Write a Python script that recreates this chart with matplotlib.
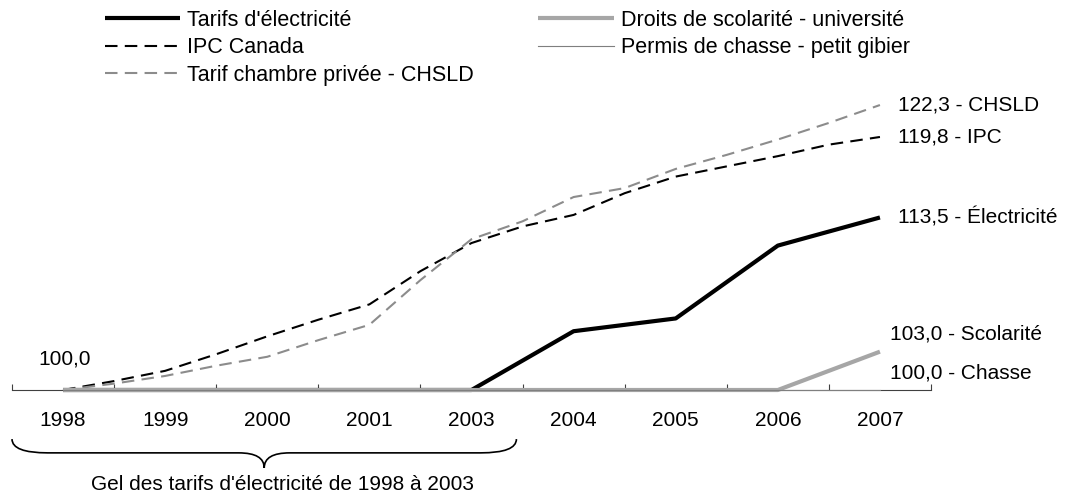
import numpy as np
import matplotlib.pyplot as plt
from matplotlib.path import Path
from matplotlib.patches import PathPatch
from matplotlib.transforms import blended_transform_factory

plt.rcParams['font.family'] = ['Liberation Sans', 'DejaVu Sans']

# category labels (2002 is not shown in the source)
years = ['1998', '1999', '2000', '2001', '2003', '2004', '2005', '2006', '2007']

# half-year series (17 points, 1998 to 2007)
ipc = [100.0, 100.7, 101.5, 102.8, 104.2, 105.5, 106.7, 109.3, 111.5,
       112.8, 113.7, 115.4, 116.7, 117.5, 118.3, 119.2, 119.8]
chsld = [100.0, 100.5, 101.1, 101.9, 102.6, 103.9, 105.1, 108.6, 111.8,
         113.2, 115.1, 115.8, 117.3, 118.4, 119.6, 120.9, 122.3]

# yearly series
electricite = [100.0, 100.0, 100.0, 100.0, 100.0, 104.6, 105.6, 111.3, 113.5]
scolarite = [100.0, 100.0, 100.0, 100.0, 100.0, 100.0, 100.0, 100.0, 103.0]
chasse = [100.0, 100.0, 100.0, 100.0, 100.0, 100.0, 100.0, 100.0, 100.0]

x_year = np.arange(len(years))
x_half = np.arange(len(ipc)) / 2

fs = 15
dash = (0, (6, 3.5))

fig = plt.figure(figsize=(10.71, 5.01), dpi=100)
ax = fig.add_axes([12/1071, 111/501, 919/1071, 306.7/501])

l_elec, = ax.plot(x_year, electricite, color='black', lw=3, zorder=3,
                  solid_capstyle='butt', clip_on=False, label="Tarifs d'électricité")
l_ipc, = ax.plot(x_half, ipc, color='black', lw=1.5, ls=dash, zorder=4,
                 clip_on=False, label='IPC Canada')
l_ch, = ax.plot(x_half, chsld, color='#8c8c8c', lw=1.5, ls=dash, zorder=4,
                clip_on=False, label='Tarif chambre privée - CHSLD')
l_sco, = ax.plot(x_year, scolarite, color='#a6a6a6', lw=3, zorder=5,
                 solid_capstyle='butt', clip_on=False,
                 label='Droits de scolarité - université')
l_cha, = ax.plot(x_year, chasse, color='#7f7f7f', lw=0.8, zorder=6,
                 clip_on=False, label='Permis de chasse - petit gibier')

ax.set_xlim(-0.5, len(years) - 0.5)
ax.set_ylim(100, 124)
for s in ['left', 'top', 'right']:
    ax.spines[s].set_visible(False)
ax.spines['bottom'].set_color('#404040')
ax.spines['bottom'].set_linewidth(0.8)
ax.set_yticks([])
ax.set_xticks(np.arange(len(years) + 1) - 0.5)
ax.set_xticklabels([])
ax.tick_params(axis='x', which='major', direction='in', length=4,
               color='#404040', width=0.8)
ax.set_xticks(x_year, minor=True)
ax.set_xticklabels(years, minor=True)
ax.tick_params(axis='x', which='minor', length=0, pad=15, labelsize=fs)

# end labels
ax.annotate('100,0', (x_half[0], ipc[0]), xytext=(2, 31), textcoords='offset pixels',
            ha='center', va='center', fontsize=fs)
ax.annotate('122,3 - CHSLD', (x_half[-1], chsld[-1]), xytext=(18, 0),
            textcoords='offset pixels', ha='left', va='center', fontsize=fs)
ax.annotate('119,8 - IPC', (x_half[-1], ipc[-1]), xytext=(18, 0),
            textcoords='offset pixels', ha='left', va='center', fontsize=fs)
ax.annotate('113,5 - Électricité', (x_year[-1], electricite[-1]), xytext=(18, 0),
            textcoords='offset pixels', ha='left', va='center', fontsize=fs)
ax.annotate('103,0 - Scolarité', (x_year[-1], scolarite[-1]), xytext=(10, 18),
            textcoords='offset pixels', ha='left', va='center', fontsize=fs)
ax.annotate('100,0 - Chasse', (x_year[-1], chasse[-1]), xytext=(10, 17),
            textcoords='offset pixels', ha='left', va='center', fontsize=fs)

# brace under the freeze years
tr = blended_transform_factory(ax.transData, ax.transAxes)
x0, x1 = -0.5, 4.44
xc = (x0 + x1) / 2
yt, ym, yb = -0.16, -0.205, -0.254
r, rt = 0.35, 0.25
verts = [(x0, yt), (x0, ym), (x0 + r, ym),
         (xc - rt, ym),
         (xc, ym), (xc, yb),
         (xc, ym), (xc + rt, ym),
         (x1 - r, ym),
         (x1, ym), (x1, yt)]
codes = [Path.MOVETO, Path.CURVE3, Path.CURVE3,
         Path.LINETO,
         Path.CURVE3, Path.CURVE3,
         Path.CURVE3, Path.CURVE3,
         Path.LINETO,
         Path.CURVE3, Path.CURVE3]
ax.add_patch(PathPatch(Path(verts, codes), transform=tr, fill=False,
                       lw=1.2, color='black', clip_on=False))
ax.text(2.15, -0.307, "Gel des tarifs d'électricité de 1998 à 2003", transform=tr,
        ha='center', va='center', fontsize=fs)

fig.legend(handles=[l_elec, l_ipc, l_ch, l_sco, l_cha], ncol=2, frameon=False,
           loc='upper left', bbox_to_anchor=(95/1071, 1.0), fontsize=15.5,
           handlelength=3.49, handletextpad=0.33, columnspacing=3.0,
           labelspacing=0.3, borderpad=0.4, borderaxespad=0.06)

fig.savefig('out.png', dpi=100)
